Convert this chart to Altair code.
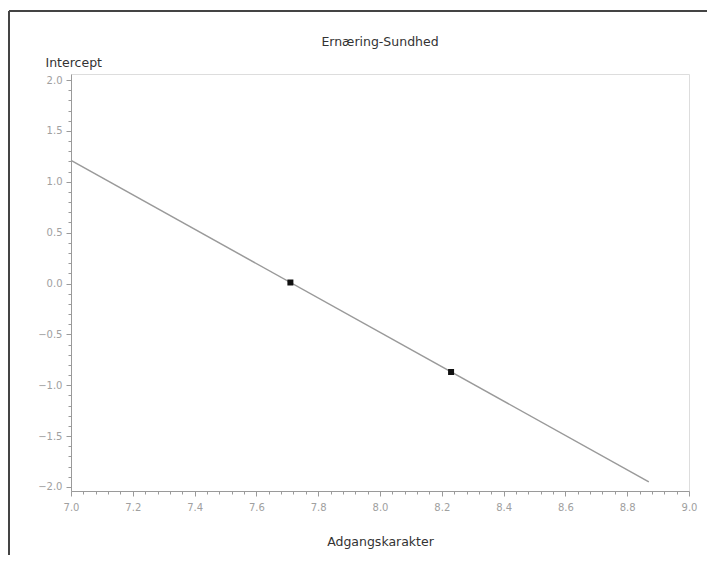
import altair as alt
import pandas as pd

# Data
line_x = [7.0, 8.87]
line_y = [1.21, -1.95]
point_x = [7.71, 8.23]
point_y = [0.01, -0.87]

x_major = [7.0, 7.2, 7.4, 7.6, 7.8, 8.0, 8.2, 8.4, 8.6, 8.8, 9.0]
y_major = [-2.0, -1.5, -1.0, -0.5, 0.0, 0.5, 1.0, 1.5, 2.0]
x_minor_per = 5
y_minor_per = 5

x_ticks = sorted({round(a + (b - a) * k / x_minor_per, 3)
                  for a, b in zip(x_major[:-1], x_major[1:]) for k in range(x_minor_per)} | {x_major[-1]})
y_ticks = sorted({round(a + (b - a) * k / y_minor_per, 3)
                  for a, b in zip(y_major[:-1], y_major[1:]) for k in range(y_minor_per)} | {y_major[-1]})

line_df = pd.DataFrame({"x": line_x, "y": line_y})
pt_df = pd.DataFrame({"x": point_x, "y": point_y})
frame_df = pd.DataFrame({"k": [0]})

GREY = "#9a9a9a"
LABEL = "#a0a0a0"

x_test = "abs(round(datum.value*100) % 20) < 0.5"
y_test = "abs(round(datum.value*10) % 5) < 0.5"

x_scale = alt.Scale(domain=[7.0, 9.0], nice=False, zero=False)
y_scale = alt.Scale(domain=[-2.04, 2.06], nice=False, zero=False)

x_axis = alt.Axis(
    values=x_ticks, tickCount=200,
    labelExpr=f"{x_test} ? format(datum.value, '.1f') : ''",
    tickSize={"condition": {"test": x_test, "value": 5}, "value": 3},
    title="Adgangskarakter", titleY=50, titleBaseline="middle",
    titleFont="DejaVu Sans", titleFontSize=12.5, titleFontWeight="normal", titleColor="#333333",
    labelFont="DejaVu Sans", labelFontSize=10, labelColor=LABEL, labelPadding=6,
    labelOverlap=False, labelFlush=False, grid=False, domainColor=GREY, tickColor=GREY, tickWidth=1,
)
y_axis = alt.Axis(
    values=y_ticks, tickCount=200,
    labelExpr=f"{y_test} ? format(datum.value, '.1f') : ''",
    tickSize={"condition": {"test": y_test, "value": 5}, "value": 3},
    title="Intercept", titleAngle=0, titleX=-26, titleY=-12, titleAlign="left", titleBaseline="middle",
    titleFont="DejaVu Sans", titleFontSize=12.5, titleFontWeight="normal", titleColor="#333333",
    labelFont="DejaVu Sans", labelFontSize=10, labelColor=LABEL, labelPadding=4,
    labelOverlap=False, labelFlush=False, grid=False, domainColor=GREY, tickColor=GREY, tickWidth=1,
)

line = alt.Chart(line_df).mark_line(color=GREY, strokeWidth=1.5).encode(
    x=alt.X("x:Q", scale=x_scale, axis=x_axis),
    y=alt.Y("y:Q", scale=y_scale, axis=y_axis),
)
pts = alt.Chart(pt_df).mark_point(shape="square", filled=True, color="#111111", size=36, opacity=1).encode(
    x=alt.X("x:Q", scale=x_scale),
    y=alt.Y("y:Q", scale=y_scale),
)
left_border = alt.Chart(frame_df).mark_rule(color="#444444", strokeWidth=2).encode(
    x=alt.value(-62), y=alt.value(-63), y2=alt.value(500)
)
top_border = alt.Chart(frame_df).mark_rule(color="#444444", strokeWidth=2).encode(
    y=alt.value(-63), x=alt.value(-62), x2=alt.value(640)
)

chart = alt.layer(line, pts, left_border, top_border).properties(
    width=618, height=417,
    autosize=alt.AutoSizeParams(type="none"),
    padding={"left": 63, "top": 66, "right": 18, "bottom": 64},
    title=alt.TitleParams("Ernæring-Sundhed", anchor="middle", font="DejaVu Sans", fontSize=12.5,
                          fontWeight="normal", color="#333333", offset=22, dy=60),
).configure_view(stroke=GREY, strokeWidth=1.5).configure(background="white")

chart.save("out.html", embed_options={"renderer": "svg", "actions": False})
